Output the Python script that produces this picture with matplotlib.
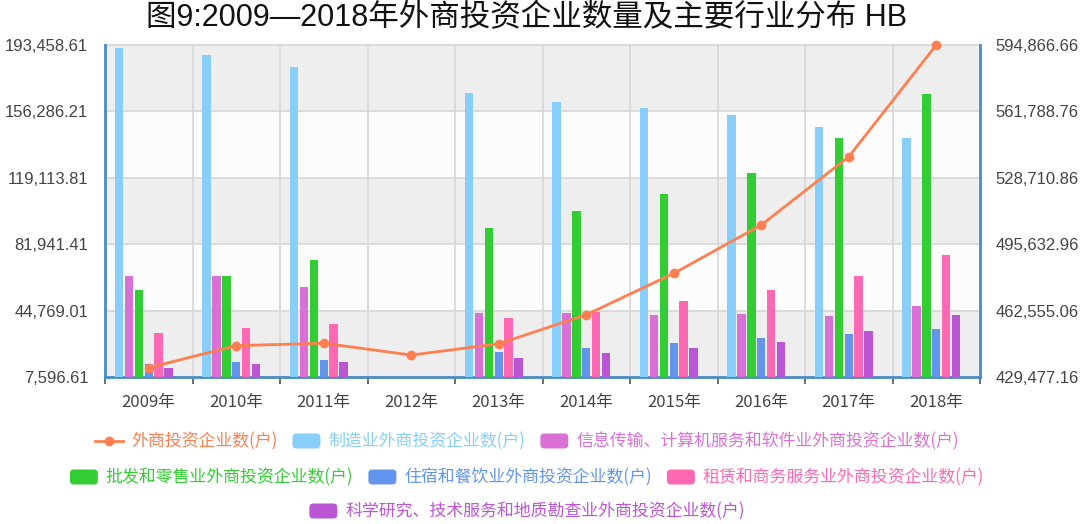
import numpy as np
import matplotlib
matplotlib.use("Agg")
import matplotlib.pyplot as plt
from matplotlib.patches import FancyBboxPatch
from matplotlib.lines import Line2D
from matplotlib.transforms import IdentityTransform

plt.rcParams["font.family"] = ["Liberation Sans", "Noto Sans CJK SC", "DejaVu Sans"]

# data
years = ["2009年", "2010年", "2011年", "2012年", "2013年",
         "2014年", "2015年", "2016年", "2017年", "2018年"]
total_firms = [434100, 445100, 446300, 440400, 446000,
               460500, 481100, 505200, 539200, 594866.66]
manufacturing = [192000, 187850, 181300, 0, 166400, 161400, 158350, 154250, 147400, 141200]
info_tech = [64100, 64100, 57800, 0, 43250, 43250, 42300, 42850, 41750, 47350]
wholesale = [56300, 64100, 73100, 0, 90850, 100500, 109850, 121600, 141200, 165850]
hotel = [14700, 15800, 17100, 0, 21750, 24000, 26800, 29250, 31650, 34300]
leasing = [32400, 34850, 37250, 0, 40450, 44150, 50300, 56300, 64300, 75900]
science = [12800, 14700, 15800, 0, 18400, 20850, 24000, 27350, 33350, 42300]

line_label = "外商投资企业数(户)"
bar_labels = [
    "制造业外商投资企业数(户)",
    "信息传输、计算机服务和软件业外商投资企业数(户)",
    "批发和零售业外商投资企业数(户)",
    "住宿和餐饮业外商投资企业数(户)",
    "租赁和商务服务业外商投资企业数(户)",
    "科学研究、技术服务和地质勘查业外商投资企业数(户)",
]
bar_series = [manufacturing, info_tech, wholesale, hotel, leasing, science]

left_lim = (7596.61, 193458.61)
right_lim = (429477.16, 594866.66)

line_color = "#ff7f50"
bar_colors = ["#87cefa", "#da70d6", "#32cd32", "#6495ed", "#ff69b4", "#ba55d3"]
axis_blue = "#4a8cc4"
text_gray = "#444444"

W, H = 1082, 524
fig = plt.figure(figsize=(W / 100, H / 100), dpi=100)
ax = fig.add_axes([105 / W, 1 - 377 / H, (980 - 105) / W, (377 - 45) / H])

x = np.arange(len(years))
step, width = 0.114, 0.097
for i, (vals, col) in enumerate(zip(bar_series, bar_colors)):
    ax.bar(x + (i - 3) * step, vals, width=width, color=col, zorder=3)

ax.set_xlim(-0.5, len(years) - 0.5)
ax.set_ylim(*left_lim)
lticks = np.linspace(*left_lim, 6)
ax.set_yticks(lticks)
ax.set_yticklabels([f"{v:,.2f}" for v in lticks])

# banded background
for k in range(5):
    if k % 2 == 0:
        ax.axhspan(lticks[k], lticks[k + 1], color="#eeeeee", zorder=0, lw=0)
    else:
        ax.axhspan(lticks[k], lticks[k + 1], color="#fcfcfc", zorder=0, lw=0)
for v in lticks[1:]:
    ax.axhline(v, color="#d6d6d6", lw=1.2, zorder=1, clip_on=False)
for b in np.arange(0.5, len(years) - 0.5, 1):
    ax.axvline(b, color="#d6d6d6", lw=1.2, zorder=1)

ax.set_xticks(x)
ax.set_xticklabels(years)
ax.set_xticks(np.arange(-0.5, len(years), 1), minor=True)
ax.tick_params(axis="x", which="major", length=0, pad=12, labelsize=12, labelcolor=text_gray)
ax.tick_params(axis="x", which="minor", length=5, width=1.2, color="#555555")
ax.tick_params(axis="y", length=0, pad=12, labelsize=12, labelcolor=text_gray)
for lbl in ax.get_xticklabels():
    lbl.set_family(["Noto Sans CJK SC", "DejaVu Sans"])

for side in ["left", "bottom"]:
    ax.spines[side].set_color(axis_blue)
    ax.spines[side].set_linewidth(2)
ax.spines["top"].set_visible(False)
ax.spines["right"].set_visible(False)

ax2 = ax.twinx()
ax2.plot(x, total_firms, color=line_color, lw=2, marker="o", markersize=6,
         zorder=5, clip_on=False)
ax2.set_ylim(*right_lim)
rticks = np.linspace(*right_lim, 6)
ax2.set_yticks(rticks)
ax2.set_yticklabels([f"{v:,.2f}" for v in rticks])
ax2.tick_params(axis="y", length=0, pad=11, labelsize=12, labelcolor=text_gray)
ax2.spines["right"].set_color(axis_blue)
ax2.spines["right"].set_linewidth(2)
for side in ["left", "top", "bottom"]:
    ax2.spines[side].set_visible(False)

fig.text(527 / W, 1 - 18 / H, "图9:2009—2018年外商投资企业数量及主要行业分布 HB",
         ha="center", va="center", fontsize=22, color="#111111")

# legend, laid out in centred rows like the original
renderer = fig.canvas.get_renderer()
items = [("line", line_color, line_label)] + [
    ("box", c, l) for c, l in zip(bar_colors, bar_labels)]
rows = [(items[0:3], 441), (items[3:6], 477), (items[6:7], 511)]
icon_w, icon_h, gap_it, gap_items, cx = 28, 15, 8, 15, 527
for row, yimg in rows:
    yd = H - yimg
    texts = []
    for kind, col, lab in row:
        t = fig.text(0, 0, lab, transform=IdentityTransform(), ha="left", va="center",
                     fontsize=12.2, color=col, family=["Noto Sans CJK SC", "DejaVu Sans"])
        texts.append(t)
    widths = [t.get_window_extent(renderer).width for t in texts]
    total = sum(icon_w + gap_it + w for w in widths) + gap_items * (len(row) - 1)
    xs = cx - total / 2
    for (kind, col, lab), t, w in zip(row, texts, widths):
        if kind == "line":
            fig.add_artist(Line2D([xs, xs + icon_w], [yd, yd], color=col, lw=2,
                                  transform=IdentityTransform()))
            fig.add_artist(Line2D([xs + icon_w / 2], [yd], color=col, marker="o",
                                  markersize=6, transform=IdentityTransform()))
        else:
            fig.add_artist(FancyBboxPatch((xs, yd - icon_h / 2), icon_w, icon_h,
                                          boxstyle="round,pad=0,rounding_size=4",
                                          fc=col, ec="none", transform=IdentityTransform()))
        t.set_position((xs + icon_w + gap_it, yd))
        xs += icon_w + gap_it + w + gap_items

fig.savefig("out.png", dpi=100)
plt.close(fig)
